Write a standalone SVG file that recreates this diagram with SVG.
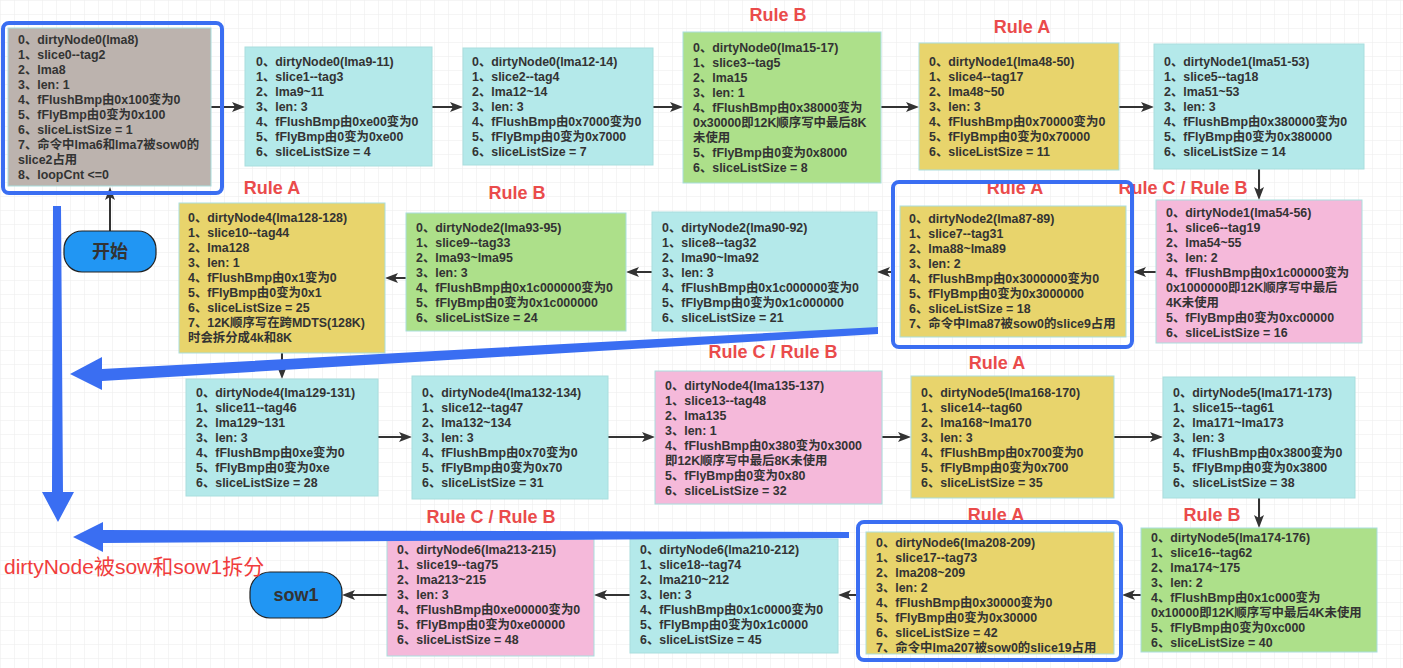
<svg xmlns="http://www.w3.org/2000/svg" width="1403" height="668" viewBox="0 0 1403 668">
<style>
.t{font-family:"Liberation Sans","Noto Sans CJK SC",sans-serif;font-weight:bold;font-size:12.4px;fill:#333}
.rule{font-family:"Liberation Sans","Noto Sans CJK SC",sans-serif;font-weight:bold;font-size:18px;fill:#ea4b4b;text-anchor:middle}
.box{stroke:#a9dede;stroke-width:1}
.gray{fill:#bcb3ae}.cyan{fill:#b4e9ea}.green{fill:#ade08a}.yellow{fill:#e8d46c}.pink{fill:#f5b9da}
.hl{fill:none;stroke:#3a6ef2;stroke-width:4}
.conn{stroke:#333;stroke-width:2;fill:none;marker-end:url(#arr)}
.term{fill:#2196f3;stroke:#222;stroke-width:1.2}
.tt{font-family:"Liberation Sans","Noto Sans CJK SC",sans-serif;font-weight:bold;font-size:18px;fill:#333;text-anchor:middle}
.big{fill:#3a6ef2}
</style>
<defs>
<pattern id="grid" width="14" height="14" patternUnits="userSpaceOnUse"><path d="M14 0H0V14" fill="none" stroke="#ececec" stroke-width="1"/></pattern>
<marker id="arr" markerUnits="userSpaceOnUse" markerWidth="13" markerHeight="10" refX="3" refY="5" orient="auto"><path d="M0,0L13,5L0,10L3,5Z" fill="#333"/></marker>
</defs>
<rect width="1403" height="668" fill="#fff"/>
<rect width="1403" height="668" fill="url(#grid)"/>

<g id="connectors">
<line class="conn" x1="211" y1="107" x2="235" y2="107"/>
<line class="conn" x1="432" y1="107" x2="453" y2="107"/>
<line class="conn" x1="653" y1="107" x2="673" y2="107"/>
<line class="conn" x1="881" y1="107" x2="909" y2="107"/>
<line class="conn" x1="1119" y1="107" x2="1144" y2="107"/>
<line class="conn" x1="1259" y1="169" x2="1259" y2="190"/>
<line class="conn" x1="1156" y1="272" x2="1143" y2="272"/>
<line class="conn" x1="893" y1="272" x2="887" y2="272"/>
<line class="conn" x1="652" y1="272" x2="636" y2="272"/>
<line class="conn" x1="406" y1="278" x2="395" y2="278"/>
<line class="conn" x1="282" y1="353" x2="282" y2="369"/>
<line class="conn" x1="378" y1="437" x2="402" y2="437"/>
<line class="conn" x1="608" y1="437" x2="645" y2="437"/>
<line class="conn" x1="882" y1="437" x2="901" y2="437"/>
<line class="conn" x1="1114" y1="437" x2="1153" y2="437"/>
<line class="conn" x1="1259" y1="498" x2="1259" y2="518"/>
<line class="conn" x1="1141" y1="595" x2="1132" y2="595"/>
<line class="conn" x1="858" y1="595" x2="848" y2="595"/>
<line class="conn" x1="630" y1="595" x2="604" y2="595"/>
<line class="conn" x1="387" y1="595" x2="352" y2="595"/>
<line class="conn" x1="110" y1="232" x2="110" y2="197"/>
</g>

<g id="n1">
<rect class="box gray" x="8" y="28" width="203" height="158"/>
<text class="t" x="18" y="44.4"><tspan x="18">0、dirtyNode0(lma8)</tspan><tspan x="18" dy="14.9">1、slice0--tag2</tspan><tspan x="18" dy="14.9">2、lma8</tspan><tspan x="18" dy="14.9">3、len: 1</tspan><tspan x="18" dy="14.9">4、fFlushBmp由0x100变为0</tspan><tspan x="18" dy="14.9">5、fFlyBmp由0变为0x100</tspan><tspan x="18" dy="14.9">6、sliceListSize = 1</tspan><tspan x="18" dy="14.9">7、命令中lma6和lma7被sow0的</tspan><tspan x="18" dy="14.9">slice2占用</tspan><tspan x="18" dy="15.5">8、loopCnt &lt;=0</tspan></text>
<rect class="hl" x="3" y="23" width="219" height="170" rx="6"/>
</g>

<g id="n2">
<rect class="box cyan" x="245" y="47" width="187" height="119"/>
<text class="t" x="256" y="66.4"><tspan x="256">0、dirtyNode0(lma9-11)</tspan><tspan x="256" dy="14.9">1、slice1--tag3</tspan><tspan x="256" dy="14.9">2、lma9~11</tspan><tspan x="256" dy="14.9">3、len: 3</tspan><tspan x="256" dy="14.9">4、fFlushBmp由0xe00变为0</tspan><tspan x="256" dy="14.9">5、fFlyBmp由0变为0xe00</tspan><tspan x="256" dy="14.9">6、sliceListSize = 4</tspan></text>
</g>

<g id="n3">
<rect class="box cyan" x="463" y="48" width="190" height="117"/>
<text class="t" x="472" y="66.4"><tspan x="472">0、dirtyNode0(lma12-14)</tspan><tspan x="472" dy="14.9">1、slice2--tag4</tspan><tspan x="472" dy="14.9">2、lma12~14</tspan><tspan x="472" dy="14.9">3、len: 3</tspan><tspan x="472" dy="14.9">4、fFlushBmp由0x7000变为0</tspan><tspan x="472" dy="14.9">5、fFlyBmp由0变为0x7000</tspan><tspan x="472" dy="14.9">6、sliceListSize = 7</tspan></text>
</g>

<g id="n4">
<text class="rule" x="778" y="21">Rule B</text>
<rect class="box green" x="683" y="32" width="198" height="151"/>
<text class="t" x="693" y="52.4"><tspan x="693">0、dirtyNode0(lma15-17)</tspan><tspan x="693" dy="14.9">1、slice3--tag5</tspan><tspan x="693" dy="14.9">2、lma15</tspan><tspan x="693" dy="14.9">3、len: 1</tspan><tspan x="693" dy="14.9">4、fFlushBmp由0x38000变为</tspan><tspan x="693" dy="14.9">0x30000即12K顺序写中最后8K</tspan><tspan x="693" dy="14.9">未使用</tspan><tspan x="693" dy="14.9">5、fFlyBmp由0变为0x8000</tspan><tspan x="693" dy="14.9">6、sliceListSize = 8</tspan></text>
</g>

<g id="n5">
<text class="rule" x="1022" y="33">Rule A</text>
<rect class="box yellow" x="919" y="43" width="200" height="127"/>
<text class="t" x="929" y="66.4"><tspan x="929">0、dirtyNode1(lma48-50)</tspan><tspan x="929" dy="14.9">1、slice4--tag17</tspan><tspan x="929" dy="14.9">2、lma48~50</tspan><tspan x="929" dy="14.9">3、len: 3</tspan><tspan x="929" dy="14.9">4、fFlushBmp由0x70000变为0</tspan><tspan x="929" dy="14.9">5、fFlyBmp由0变为0x70000</tspan><tspan x="929" dy="14.9">6、sliceListSize = 11</tspan></text>
</g>

<g id="n6">
<rect class="box cyan" x="1154" y="44" width="210" height="125"/>
<text class="t" x="1164" y="66.4"><tspan x="1164">0、dirtyNode1(lma51-53)</tspan><tspan x="1164" dy="14.9">1、slice5--tag18</tspan><tspan x="1164" dy="14.9">2、lma51~53</tspan><tspan x="1164" dy="14.9">3、len: 3</tspan><tspan x="1164" dy="14.9">4、fFlushBmp由0x380000变为0</tspan><tspan x="1164" dy="14.9">5、fFlyBmp由0变为0x380000</tspan><tspan x="1164" dy="14.9">6、sliceListSize = 14</tspan></text>
</g>

<g id="n7">
<text class="rule" x="1183" y="194">Rule C / Rule B</text>
<rect class="box pink" x="1156" y="200" width="206" height="143"/>
<text class="t" x="1166" y="217.4"><tspan x="1166">0、dirtyNode1(lma54-56)</tspan><tspan x="1166" dy="14.9">1、slice6--tag19</tspan><tspan x="1166" dy="14.9">2、lma54~55</tspan><tspan x="1166" dy="14.9">3、len: 2</tspan><tspan x="1166" dy="14.9">4、fFlushBmp由0x1c00000变为</tspan><tspan x="1166" dy="14.9">0x1000000即12K顺序写中最后</tspan><tspan x="1166" dy="14.9">4K未使用</tspan><tspan x="1166" dy="14.9">5、fFlyBmp由0变为0xc00000</tspan><tspan x="1166" dy="14.9">6、sliceListSize = 16</tspan></text>
</g>

<g id="n8">
<text class="rule" x="1015" y="194">Rule A</text>
<rect class="box yellow" x="900" y="206" width="226" height="131"/>
<text class="t" x="909" y="223.4"><tspan x="909">0、dirtyNode2(lma87-89)</tspan><tspan x="909" dy="14.9">1、slice7--tag31</tspan><tspan x="909" dy="14.9">2、lma88~lma89</tspan><tspan x="909" dy="14.9">3、len: 2</tspan><tspan x="909" dy="14.9">4、fFlushBmp由0x3000000变为0</tspan><tspan x="909" dy="14.9">5、fFlyBmp由0变为0x3000000</tspan><tspan x="909" dy="14.9">6、sliceListSize = 18</tspan><tspan x="909" dy="14.9">7、命令中lma87被sow0的slice9占用</tspan></text>
<rect class="hl" x="893" y="182" width="239" height="165" rx="6"/>
</g>

<g id="n9">
<rect class="box cyan" x="652" y="212" width="225" height="119"/>
<text class="t" x="662" y="232.4"><tspan x="662">0、dirtyNode2(lma90-92)</tspan><tspan x="662" dy="14.9">1、slice8--tag32</tspan><tspan x="662" dy="14.9">2、lma90~lma92</tspan><tspan x="662" dy="14.9">3、len: 3</tspan><tspan x="662" dy="14.9">4、fFlushBmp由0x1c000000变为0</tspan><tspan x="662" dy="14.9">5、fFlyBmp由0变为0x1c000000</tspan><tspan x="662" dy="14.9">6、sliceListSize = 21</tspan></text>
</g>

<g id="n10">
<text class="rule" x="517" y="199">Rule B</text>
<rect class="box green" x="406" y="213" width="220" height="118"/>
<text class="t" x="416" y="232.4"><tspan x="416">0、dirtyNode2(lma93-95)</tspan><tspan x="416" dy="14.9">1、slice9--tag33</tspan><tspan x="416" dy="14.9">2、lma93~lma95</tspan><tspan x="416" dy="14.9">3、len: 3</tspan><tspan x="416" dy="14.9">4、fFlushBmp由0x1c000000变为0</tspan><tspan x="416" dy="14.9">5、fFlyBmp由0变为0x1c000000</tspan><tspan x="416" dy="14.9">6、sliceListSize = 24</tspan></text>
</g>

<g id="n11">
<text class="rule" x="272" y="194">Rule A</text>
<rect class="box yellow" x="179" y="203" width="206" height="150"/>
<text class="t" x="188" y="222.4"><tspan x="188">0、dirtyNode4(lma128-128)</tspan><tspan x="188" dy="14.9">1、slice10--tag44</tspan><tspan x="188" dy="14.9">2、lma128</tspan><tspan x="188" dy="14.9">3、len: 1</tspan><tspan x="188" dy="14.9">4、fFlushBmp由0x1变为0</tspan><tspan x="188" dy="14.9">5、fFlyBmp由0变为0x1</tspan><tspan x="188" dy="14.9">6、sliceListSize = 25</tspan><tspan x="188" dy="14.9">7、12K顺序写在跨MDTS(128K)</tspan><tspan x="188" dy="14.9">时会拆分成4k和8K</tspan></text>
</g>

<g id="n12">
<rect class="box cyan" x="186" y="379" width="192" height="117"/>
<text class="t" x="196" y="397.4"><tspan x="196">0、dirtyNode4(lma129-131)</tspan><tspan x="196" dy="14.9">1、slice11--tag46</tspan><tspan x="196" dy="14.9">2、lma129~131</tspan><tspan x="196" dy="14.9">3、len: 3</tspan><tspan x="196" dy="14.9">4、fFlushBmp由0xe变为0</tspan><tspan x="196" dy="14.9">5、fFlyBmp由0变为0xe</tspan><tspan x="196" dy="14.9">6、sliceListSize = 28</tspan></text>
</g>

<g id="n13">
<rect class="box cyan" x="412" y="376" width="196" height="123"/>
<text class="t" x="422" y="397.4"><tspan x="422">0、dirtyNode4(lma132-134)</tspan><tspan x="422" dy="14.9">1、slice12--tag47</tspan><tspan x="422" dy="14.9">2、lma132~134</tspan><tspan x="422" dy="14.9">3、len: 3</tspan><tspan x="422" dy="14.9">4、fFlushBmp由0x70变为0</tspan><tspan x="422" dy="14.9">5、fFlyBmp由0变为0x70</tspan><tspan x="422" dy="14.9">6、sliceListSize = 31</tspan></text>
</g>

<g id="n14">
<text class="rule" x="773" y="358">Rule C / Rule B</text>
<rect class="box pink" x="655" y="371" width="227" height="133"/>
<text class="t" x="665" y="390.4"><tspan x="665">0、dirtyNode4(lma135-137)</tspan><tspan x="665" dy="14.9">1、slice13--tag48</tspan><tspan x="665" dy="14.9">2、lma135</tspan><tspan x="665" dy="14.9">3、len: 1</tspan><tspan x="665" dy="14.9">4、fFlushBmp由0x380变为0x3000</tspan><tspan x="665" dy="14.9">即12K顺序写中最后8K未使用</tspan><tspan x="665" dy="14.9">5、fFlyBmp由0变为0x80</tspan><tspan x="665" dy="14.9">6、sliceListSize = 32</tspan></text>
</g>

<g id="n15">
<text class="rule" x="997" y="369">Rule A</text>
<rect class="box yellow" x="911" y="376" width="203" height="122"/>
<text class="t" x="921" y="397.4"><tspan x="921">0、dirtyNode5(lma168-170)</tspan><tspan x="921" dy="14.9">1、slice14--tag60</tspan><tspan x="921" dy="14.9">2、lma168~lma170</tspan><tspan x="921" dy="14.9">3、len: 3</tspan><tspan x="921" dy="14.9">4、fFlushBmp由0x700变为0</tspan><tspan x="921" dy="14.9">5、fFlyBmp由0变为0x700</tspan><tspan x="921" dy="14.9">6、sliceListSize = 35</tspan></text>
</g>

<g id="n16">
<rect class="box cyan" x="1163" y="377" width="192" height="121"/>
<text class="t" x="1173" y="397.4"><tspan x="1173">0、dirtyNode5(lma171-173)</tspan><tspan x="1173" dy="14.9">1、slice15--tag61</tspan><tspan x="1173" dy="14.9">2、lma171~lma173</tspan><tspan x="1173" dy="14.9">3、len: 3</tspan><tspan x="1173" dy="14.9">4、fFlushBmp由0x3800变为0</tspan><tspan x="1173" dy="14.9">5、fFlyBmp由0变为0x3800</tspan><tspan x="1173" dy="14.9">6、sliceListSize = 38</tspan></text>
</g>

<g id="n17">
<text class="rule" x="1212" y="521">Rule B</text>
<rect class="box green" x="1141" y="528" width="236" height="124"/>
<text class="t" x="1151" y="542.4"><tspan x="1151">0、dirtyNode5(lma174-176)</tspan><tspan x="1151" dy="14.9">1、slice16--tag62</tspan><tspan x="1151" dy="14.9">2、lma174~175</tspan><tspan x="1151" dy="14.9">3、len: 2</tspan><tspan x="1151" dy="14.9">4、fFlushBmp由0x1c000变为</tspan><tspan x="1151" dy="14.9">0x10000即12K顺序写中最后4K未使用</tspan><tspan x="1151" dy="14.9">5、fFlyBmp由0变为0xc000</tspan><tspan x="1151" dy="14.9">6、sliceListSize = 40</tspan></text>
</g>

<g id="n18">
<text class="rule" x="996" y="521">Rule A</text>
<rect class="box yellow" x="866" y="532" width="248" height="122"/>
<text class="t" x="876" y="547.4"><tspan x="876">0、dirtyNode6(lma208-209)</tspan><tspan x="876" dy="14.9">1、slice17--tag73</tspan><tspan x="876" dy="14.9">2、lma208~209</tspan><tspan x="876" dy="14.9">3、len: 2</tspan><tspan x="876" dy="14.9">4、fFlushBmp由0x30000变为0</tspan><tspan x="876" dy="14.9">5、fFlyBmp由0变为0x30000</tspan><tspan x="876" dy="14.9">6、sliceListSize = 42</tspan><tspan x="876" dy="14.9">7、命令中lma207被sow0的slice19占用</tspan></text>
<rect class="hl" x="858" y="522" width="263" height="138" rx="6"/>
</g>

<g id="n19">
<rect class="box cyan" x="630" y="539" width="208" height="114"/>
<text class="t" x="640" y="554.4"><tspan x="640">0、dirtyNode6(lma210-212)</tspan><tspan x="640" dy="14.9">1、slice18--tag74</tspan><tspan x="640" dy="14.9">2、lma210~212</tspan><tspan x="640" dy="14.9">3、len: 3</tspan><tspan x="640" dy="14.9">4、fFlushBmp由0x1c0000变为0</tspan><tspan x="640" dy="14.9">5、fFlyBmp由0变为0x1c0000</tspan><tspan x="640" dy="14.9">6、sliceListSize = 45</tspan></text>
</g>

<g id="n20">
<text class="rule" x="491" y="523">Rule C / Rule B</text>
<rect class="box pink" x="387" y="539" width="207" height="117"/>
<text class="t" x="397" y="554.4"><tspan x="397">0、dirtyNode6(lma213-215)</tspan><tspan x="397" dy="14.9">1、slice19--tag75</tspan><tspan x="397" dy="14.9">2、lma213~215</tspan><tspan x="397" dy="14.9">3、len: 3</tspan><tspan x="397" dy="14.9">4、fFlushBmp由0xe00000变为0</tspan><tspan x="397" dy="14.9">5、fFlyBmp由0变为0xe00000</tspan><tspan x="397" dy="14.9">6、sliceListSize = 48</tspan></text>
</g>

<g id="start">
<rect class="term" x="64" y="231" width="92" height="41" rx="18"/>
<text class="tt" x="110" y="258">开始</text>
</g>

<g id="sow1">
<rect class="term" x="250" y="572" width="92" height="46" rx="20"/>
<text class="tt" x="296" y="601">sow1</text>
</g>

<g id="big-arrows">
<polygon class="big" points="53,206 61,206 63,492 74,492 58,522 42,492 52,492"/>
<polygon class="big" points="878,327 878,334 102,381 102,390 70,374 102,357 102,369"/>
<polygon class="big" points="849,532 849,538 103,543 103,552 73,537 103,522 103,530"/>
</g>

<text x="4" y="574" font-family="Liberation Sans, Noto Sans CJK SC, sans-serif" font-size="21" fill="#f03c3c">dirtyNode被sow和sow1拆分</text>
</svg>
